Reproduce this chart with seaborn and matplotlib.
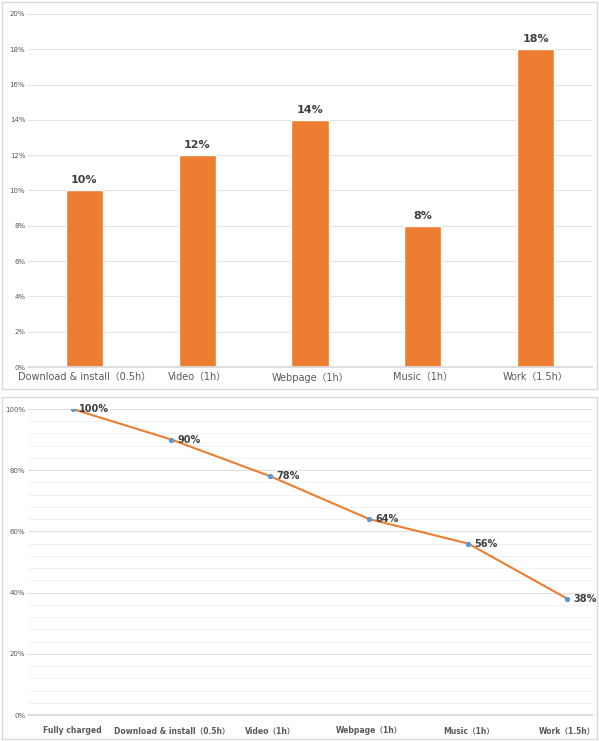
import matplotlib
matplotlib.use("Agg")
import matplotlib.pyplot as plt
import matplotlib.ticker as mticker
from matplotlib.patches import Rectangle
import seaborn as sns
import pandas as pd

# ── Data ──────────────────────────────────────────────────────────────────────
TASKS = ["Download & install（0.5h）", "Video（1h）", "Webpage（1h）", "Music（1h）", "Work（1.5h）"]
USAGE = [10, 12, 14, 8, 18]

STAGES = ["Fully charged", "Download & install（0.5h）", "Video（1h）", "Webpage（1h）",
          "Music（1h）", "Work（1.5h）"]
BATTERY = [100, 90, 78, 64, 56, 38]

ORANGE = "#ed7d31"
FONTS = ["DejaVu Sans", "Noto Sans CJK SC"]

sns.set_theme(style="white")
plt.rcParams["font.family"] = FONTS

W, H = 599, 741
fig = plt.figure(figsize=(W / 100, H / 100), dpi=100)


def fbox(x0, y0, x1, y1):
    """pixel box (top-left origin) -> figure fraction rect"""
    return [x0 / W, 1 - y1 / H, (x1 - x0) / W, (y1 - y0) / H]


# panel frames
for (x0, y0, x1, y1) in [(2, 2, 597, 389), (2, 397, 597, 739)]:
    r = fbox(x0, y0, x1, y1)
    fig.add_artist(Rectangle((r[0], r[1]), r[2], r[3], transform=fig.transFigure,
                             fill=False, edgecolor="#d9d9d9", linewidth=1))

# ── Top: bar chart ────────────────────────────────────────────────────────────
ax1 = fig.add_axes(fbox(28, 14, 592, 367))
df1 = pd.DataFrame({"task": TASKS, "usage": USAGE})
sns.barplot(data=df1, x="task", y="usage", color=ORANGE, width=0.33, saturation=1, ax=ax1)
ax1.set_ylim(0, 20)
ax1.yaxis.set_major_locator(mticker.MultipleLocator(2))
ax1.yaxis.set_major_formatter(mticker.FuncFormatter(lambda v, _: f"{v:.0f}%"))
ax1.grid(axis="y", color="#e3e3e3", linewidth=0.8)
ax1.set_axisbelow(True)
for s in ["top", "right", "left"]:
    ax1.spines[s].set_visible(False)
ax1.spines["bottom"].set_color("#d9d9d9")
ax1.tick_params(axis="y", labelsize=5, colors="#595959", length=0, pad=2)
ax1.tick_params(axis="x", labelsize=7, colors="#595959", length=0, pad=4)
ax1.set_xlabel("")
ax1.set_ylabel("")
for i, v in enumerate(USAGE):
    ax1.text(i, v + 0.3, f"{v}%", ha="center", va="bottom", fontsize=8,
             fontweight="bold", color="#404040")

# ── Bottom: line chart ────────────────────────────────────────────────────────
ax2 = fig.add_axes(fbox(28, 409, 592, 715))
df2 = pd.DataFrame({"stage": STAGES, "battery": BATTERY})
sns.lineplot(data=df2, x="stage", y="battery", color=ORANGE, linewidth=1.5, sort=False, ax=ax2)
ax2.scatter(range(len(STAGES)), BATTERY, s=8, color="#5b9bd5", zorder=3)
ax2.set_ylim(0, 100)
ax2.set_xlim(-0.45, len(STAGES) - 1 + 0.25)
ax2.yaxis.set_major_locator(mticker.MultipleLocator(20))
ax2.yaxis.set_minor_locator(mticker.MultipleLocator(4))
ax2.yaxis.set_major_formatter(mticker.FuncFormatter(lambda v, _: f"{v:.0f}%"))
ax2.grid(axis="y", which="major", color="#e0e0e0", linewidth=0.8)
ax2.grid(axis="y", which="minor", color="#f0f0f0", linewidth=0.6)
ax2.set_axisbelow(True)
for s in ["top", "right", "left"]:
    ax2.spines[s].set_visible(False)
ax2.spines["bottom"].set_color("#d9d9d9")
ax2.tick_params(axis="y", which="both", labelsize=5, colors="#595959", length=0, pad=2)
ax2.tick_params(axis="x", labelsize=5.5, colors="#595959", length=0, pad=8)
for lab in ax2.get_xticklabels():
    lab.set_fontweight("bold")
ax2.set_xlabel("")
ax2.set_ylabel("")
for i, v in enumerate(BATTERY):
    ax2.text(i + 0.06, v, f"{v}%", ha="left", va="center", fontsize=7,
             fontweight="bold", color="#404040")

fig.savefig("out.png", dpi=100)
